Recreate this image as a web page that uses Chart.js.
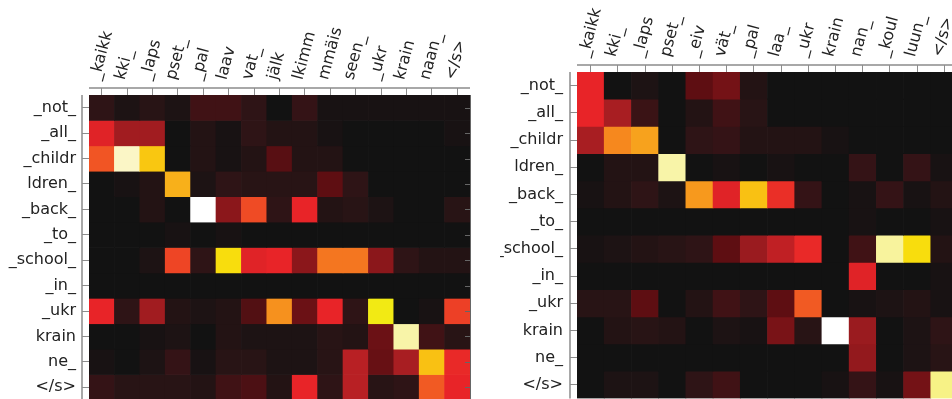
<!DOCTYPE html>
<html>
<head>
<meta charset="utf-8">
<script src="https://cdn.jsdelivr.net/npm/chart.js@4.4.1/dist/chart.umd.min.js"></script>
<style>
  html, body { margin: 0; padding: 0; background: #fff; width: 952px; height: 399px; overflow: hidden; }
  canvas { position: absolute; top: 0; }
</style>
</head>
<body>
<canvas id="left" width="480" height="400" style="left:0px"></canvas>
<canvas id="right" width="460" height="400" style="left:500px"></canvas>
<script>
// source sentence pieces (rows) and target pieces (columns)
const rowLabels = ["_not_", "_all_", "_childr", "ldren_", "_back_", "_to_", "_school_", "_in_", "_ukr", "krain", "ne_", "</s>"];
const colsLeft = ["_kaikk", "kki_", "_laps", "pset_", "_pal", "laav", "vat_", "jälk", "lkimm", "mmäis", "seen_", "_ukr", "krain", "naan_", "</s>"];
const colsRight = ["_kaikk", "kki_", "_laps", "pset_", "_eiv", "vät_", "_pal", "laa_", "_ukr", "krain", "nan_", "_koul", "luun_", "</s>"];

// attention weights, one array per row
const attnLeft = [
  [0.05, 0.02, 0.04, 0.02, 0.08, 0.08, 0.05, 0.00, 0.06, 0.01, 0.01, 0.01, 0.01, 0.01, 0.01],
  [0.33, 0.25, 0.25, 0.00, 0.03, 0.01, 0.05, 0.03, 0.03, 0.01, 0.00, 0.00, 0.00, 0.00, 0.01],
  [0.43, 0.92, 0.67, 0.00, 0.03, 0.01, 0.03, 0.12, 0.03, 0.03, 0.00, 0.00, 0.00, 0.00, 0.00],
  [0.00, 0.01, 0.03, 0.63, 0.02, 0.05, 0.04, 0.04, 0.04, 0.13, 0.05, 0.00, 0.00, 0.00, 0.00],
  [0.00, 0.00, 0.03, 0.00, 1.00, 0.22, 0.41, 0.05, 0.34, 0.03, 0.04, 0.02, 0.00, 0.00, 0.04],
  [0.00, 0.00, 0.00, 0.01, 0.00, 0.01, 0.00, 0.00, 0.00, 0.00, 0.00, 0.00, 0.00, 0.00, 0.00],
  [0.00, 0.00, 0.02, 0.40, 0.05, 0.71, 0.33, 0.34, 0.22, 0.50, 0.50, 0.22, 0.05, 0.03, 0.03],
  [0.00, 0.00, 0.00, 0.00, 0.00, 0.00, 0.00, 0.00, 0.00, 0.00, 0.00, 0.00, 0.00, 0.00, 0.00],
  [0.34, 0.05, 0.25, 0.03, 0.02, 0.03, 0.11, 0.56, 0.16, 0.34, 0.05, 0.74, 0.00, 0.01, 0.39],
  [0.00, 0.00, 0.01, 0.02, 0.00, 0.03, 0.02, 0.02, 0.02, 0.04, 0.03, 0.16, 0.87, 0.08, 0.04],
  [0.01, 0.00, 0.02, 0.06, 0.01, 0.04, 0.04, 0.02, 0.02, 0.04, 0.28, 0.15, 0.26, 0.66, 0.35],
  [0.06, 0.04, 0.04, 0.04, 0.03, 0.08, 0.10, 0.03, 0.34, 0.05, 0.28, 0.04, 0.05, 0.44, 0.34]
];
const attnRight = [
  [0.34, 0.00, 0.02, 0.00, 0.13, 0.18, 0.03, 0.00, 0.00, 0.00, 0.00, 0.00, 0.00, 0.00],
  [0.34, 0.26, 0.07, 0.00, 0.03, 0.08, 0.04, 0.00, 0.00, 0.00, 0.00, 0.00, 0.00, 0.00],
  [0.26, 0.54, 0.60, 0.00, 0.05, 0.06, 0.03, 0.03, 0.03, 0.01, 0.00, 0.00, 0.00, 0.00],
  [0.00, 0.03, 0.03, 0.87, 0.00, 0.01, 0.00, 0.01, 0.00, 0.00, 0.06, 0.00, 0.06, 0.01],
  [0.01, 0.03, 0.05, 0.02, 0.58, 0.33, 0.66, 0.36, 0.06, 0.00, 0.01, 0.06, 0.01, 0.03],
  [0.00, 0.00, 0.00, 0.00, 0.00, 0.00, 0.00, 0.00, 0.00, 0.00, 0.01, 0.00, 0.00, 0.01],
  [0.01, 0.02, 0.03, 0.04, 0.05, 0.13, 0.24, 0.29, 0.35, 0.00, 0.08, 0.86, 0.71, 0.03],
  [0.00, 0.00, 0.00, 0.00, 0.00, 0.00, 0.00, 0.00, 0.00, 0.00, 0.33, 0.00, 0.00, 0.01],
  [0.04, 0.04, 0.13, 0.00, 0.03, 0.08, 0.05, 0.13, 0.44, 0.00, 0.01, 0.02, 0.03, 0.01],
  [0.00, 0.03, 0.04, 0.03, 0.00, 0.02, 0.01, 0.19, 0.04, 1.00, 0.24, 0.00, 0.02, 0.05],
  [0.00, 0.00, 0.00, 0.00, 0.00, 0.00, 0.00, 0.00, 0.00, 0.00, 0.23, 0.00, 0.02, 0.04],
  [0.00, 0.02, 0.02, 0.00, 0.05, 0.08, 0.00, 0.00, 0.00, 0.01, 0.06, 0.01, 0.18, 0.84]
];

// "hot"-like colormap, stops
const cmap = [
  [0.00, [18, 18, 18]],
  [0.05, [46, 20, 22]],
  [0.13, [94, 14, 18]],
  [0.20, [125, 20, 24]],
  [0.26, [168, 30, 34]],
  [0.34, [232, 36, 40]],
  [0.42, [240, 80, 36]],
  [0.52, [245, 128, 31]],
  [0.62, [248, 170, 28]],
  [0.70, [250, 216, 10]],
  [0.74, [242, 234, 20]],
  [0.87, [248, 244, 168]],
  [0.93, [251, 246, 204]],
  [1.00, [255, 255, 255]]
];
function hot(v) {
  for (let i = 1; i < cmap.length; i++) {
    if (v <= cmap[i][0]) {
      const [v0, c0] = cmap[i - 1], [v1, c1] = cmap[i];
      const t = (v - v0) / (v1 - v0);
      const c = c0.map((x, k) => Math.round(x + (c1[k] - x) * t));
      return `rgb(${c[0]},${c[1]},${c[2]})`;
    }
  }
  return "rgb(255,255,255)";
}

const TICK = 7;
const spines = {
  id: "spines",
  afterDraw(chart) {
    const { ctx, chartArea: a } = chart;
    ctx.save();
    ctx.strokeStyle = "#8c8c8c";
    ctx.lineWidth = 1.5;
    ctx.beginPath();
    ctx.moveTo(a.left, a.top - TICK); ctx.lineTo(a.right, a.top - TICK);
    ctx.moveTo(a.left - TICK, a.top); ctx.lineTo(a.left - TICK, a.bottom);
    ctx.stroke();
    // right edge ticks pointing in
    ctx.lineWidth = 1;
    ctx.strokeStyle = "#666";
    ctx.beginPath();
    ctx.moveTo(a.right + 0.5, a.top); ctx.lineTo(a.right + 0.5, a.bottom);
    chart.scales.y.ticks.forEach(t => {
      const y = Math.round(chart.scales.y.getPixelForValue(t.value)) + 0.5;
      ctx.moveTo(a.right - 5, y); ctx.lineTo(a.right, y);
    });
    ctx.stroke();
    ctx.restore();
  }
};

function heatmap(id, cols, attn, leftW, topH, pad, labelPad) {
  return new Chart(document.getElementById(id), {
    type: "bar",
    data: {
      labels: cols,
      datasets: rowLabels.map((r, i) => ({
        label: r,
        data: cols.map(() => 1),
        backgroundColor: attn[i].map(hot),
        borderWidth: 0,
        barPercentage: 1,
        categoryPercentage: 1,
        stack: "rows"
      }))
    },
    options: {
      responsive: false,
      animation: false,
      layout: { padding: pad },
      plugins: { legend: { display: false }, tooltip: { enabled: false } },
      scales: {
        x: {
          position: "top",
          stacked: true,
          afterFit: s => { s.height = topH; s.paddingLeft = 0; s.paddingRight = 0; },
          border: { display: false },
          grid: { offset: false, drawOnChartArea: false, tickLength: TICK, color: "#8c8c8c" },
          ticks: {
            autoSkip: false, minRotation: 75, maxRotation: 75, padding: 6, labelOffset: 12,
            color: "#222", font: { family: "DejaVu Sans", size: 16 }
          }
        },
        y: {
          stacked: true,
          reverse: true,
          min: 0,
          max: rowLabels.length,
          afterFit: s => { s.width = leftW; s.paddingTop = 0; s.paddingBottom = 0; },
          afterBuildTicks: s => { s.ticks = rowLabels.map((r, i) => ({ value: i + 0.5 })); },
          border: { display: false },
          grid: { drawOnChartArea: false, tickLength: TICK, color: "#8c8c8c" },
          ticks: {
            padding: labelPad, color: "#222", font: { family: "DejaVu Sans", size: 16 },
            callback: v => rowLabels[Math.floor(v)]
          }
        }
      }
    },
    plugins: [spines]
  });
}

heatmap("left", colsLeft, attnLeft, 89, 95, { left: 0, top: 0, right: 10, bottom: 0 }, 6);
heatmap("right", colsRight, attnRight, 77, 72, { left: 0, top: 0, right: 2, bottom: 1.6 }, 7);
</script>
</body>
</html>
